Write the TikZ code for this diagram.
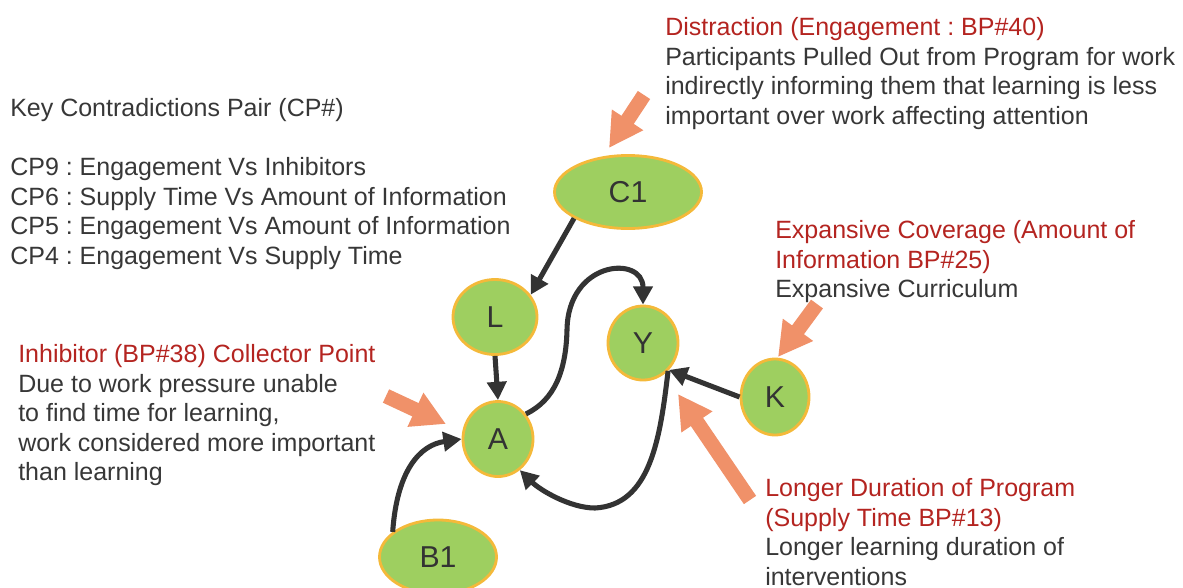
\documentclass[tikz,border=0pt]{standalone}
\usepackage{fontspec}
\setmainfont{Liberation Sans}
\usetikzlibrary{arrows.meta,shapes.geometric}
\definecolor{nodegreen}{RGB}{158,207,96}
\definecolor{nodeedge}{RGB}{244,185,58}
\definecolor{darkline}{RGB}{51,51,51}
\definecolor{salmon}{RGB}{240,145,105}
\definecolor{bpred}{RGB}{180,36,32}
\definecolor{bodygray}{RGB}{55,55,55}
\frenchspacing
\begin{document}
\begin{tikzpicture}[x=0.025cm, y=-0.025cm,
    state/.style={ellipse, draw=nodeedge, line width=2pt, fill=nodegreen,
      text=darkline, font=\fontsize{21.5}{26}\selectfont, inner sep=0pt},
    link/.style={draw=darkline, line width=3.6pt, -{Triangle[length=13pt,width=13.5pt]}},
    pointer/.style={draw=salmon, line width=10.5pt, -{Triangle[length=24pt,width=25pt]}},
    note/.style={anchor=north west, inner sep=0pt, align=left, text=bodygray,
      font=\fontsize{17.78}{21.05}\selectfont}]
  \useasboundingbox (0,0) rectangle (1183,587);
  % nodes of the activity system
  \node[state, minimum width=3.675cm, minimum height=1.825cm] (C1) at (628,192) {C1};
  \node[state, minimum width=2.1cm, minimum height=1.875cm] (L) at (495,317) {L};
  \node[state, minimum width=1.75cm, minimum height=1.85cm] (Y) at (643,343) {Y};
  \node[state, minimum width=1.75cm, minimum height=1.875cm] (A) at (498,439) {A};
  \node[state, minimum width=1.7cm, minimum height=1.9cm] (K) at (775,397) {K};
  \node[state, minimum width=2.925cm, minimum height=1.85cm] (B1) at (438,557) {B1};
  % links
  \draw[link] (C1.206) -- (L.32);
  \draw[link] (L.south) -- (A.north);
  \draw[link] (A.42) .. controls (555,400) and (566,370) .. (567,330)
    .. controls (568,260) and (643,255) .. (Y.north);
  \draw[link] (Y.-48) .. controls (660,440) and (650,505) .. (595,508)
    .. controls (570,508) and (540,490) .. (A.-55);
  \draw[link] (K.west) -- (Y.-46);
  \draw[link] (B1.151) .. controls (397,470) and (420,445) .. (A.west);
  % pointers from the notes
  \coordinate (c1tail) at (644,95);  \coordinate (c1tip) at (609,148);
  \coordinate (atail) at (386,396);  \coordinate (atip) at (446,424);
  \coordinate (ktail) at (817,304);  \coordinate (ktip) at (778,357);
  \coordinate (ytail) at (750,500);  \coordinate (ytip) at (678,394);
  \draw[pointer] (c1tail) -- (c1tip);
  \draw[pointer] (atail) -- (atip);
  \draw[pointer] (ktail) -- (ktip);
  \draw[pointer] (ytail) -- (ytip);
  % notes
  \node[note] (pairs) at (10,98) {Key Contradictions Pair (CP\#)\\[21.05pt]
    CP9 : Engagement Vs Inhibitors\\
    CP6 : Supply Time Vs Amount of Information\\
    CP5 : Engagement Vs Amount of Information\\
    CP4 : Engagement Vs Supply Time};
  \node[note] (distraction) at (665,17) {\textcolor{bpred}{Distraction (Engagement : BP\#40)}\\
    Participants Pulled Out from Program for work\\
    indirectly informing them that learning is less\\
    important over work affecting attention};
  \node[note] (coverage) at (775,220) {\textcolor{bpred}{Expansive Coverage (Amount of}\\
    \textcolor{bpred}{Information BP\#25)}\\
    Expansive Curriculum};
  \node[note] (inhibitor) at (18,344) {\textcolor{bpred}{Inhibitor (BP\#38) Collector Point}\\
    Due to work pressure unable\\
    to find time for learning,\\
    work considered more important\\
    than learning};
  \node[note] (duration) at (765,478) {\textcolor{bpred}{Longer Duration of Program}\\
    \textcolor{bpred}{(Supply Time BP\#13)}\\
    Longer learning duration of\\
    interventions};
\end{tikzpicture}
\end{document}
